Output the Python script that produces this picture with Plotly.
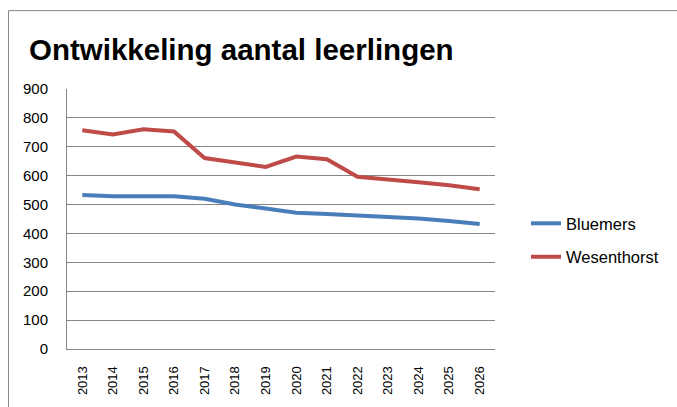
import plotly.graph_objects as go

years = [str(y) for y in range(2013, 2027)]
bluemers = [533, 529, 529, 529, 520, 500, 486, 472, 467, 462, 457, 452, 443, 433]
wesenthorst = [757, 743, 761, 753, 661, 645, 630, 666, 657, 596, 585, 577, 567, 553]
y_ticks = [0, 100, 200, 300, 400, 500, 600, 700, 800, 900]

W, H = 677, 407
L, R, T, B = 67, 495, 89.3, 350.7
pw, ph = R - L, B - T

def px(x):
    return (x - L) / pw

def py(y):
    return (B - y) / ph

FONT = "Liberation Sans, Arial, sans-serif"

fig = go.Figure()
fig.add_trace(go.Scatter(x=years, y=bluemers, mode="lines", name="Bluemers",
                         line=dict(color="#4A7EBB", width=4), legendgroup="a"))
fig.add_trace(go.Scatter(x=years, y=wesenthorst, mode="lines", name="Wesenthorst",
                         line=dict(color="#BE4B48", width=4), legendgroup="b"))

fig.update_layout(
    width=W, height=H,
    margin=dict(l=L, r=W - R, t=T, b=H - B, pad=0),
    paper_bgcolor="white", plot_bgcolor="white",
    font=dict(family=FONT, size=13, color="black"),
    title=dict(text="<b>Ontwikkeling aantal leerlingen</b>",
               font=dict(family=FONT, size=29.5, color="black"),
               x=29 / W, xanchor="left", y=1 - 50 / H, yanchor="middle"),
    showlegend=True,
    legend=dict(x=px(526), y=py(207), xanchor="left", yanchor="top",
                tracegroupgap=9, font=dict(size=16.5),
                bgcolor="rgba(0,0,0,0)", itemwidth=30),
    xaxis=dict(type="category", range=[-0.5, len(years) - 0.5], showgrid=False,
               showline=True, linecolor="#868686", linewidth=1, ticks="",
               tickangle=-90, tickfont=dict(size=13), ticklabelstandoff=11,
               fixedrange=True),
    yaxis=dict(range=[0, 900], tickvals=y_ticks, showgrid=True, gridcolor="#868686",
               gridwidth=1, showline=True, linecolor="#868686", linewidth=1,
               ticks="", zeroline=False, tickfont=dict(size=15),
               ticklabelstandoff=15, fixedrange=True),
    shapes=[dict(type="rect", xref="paper", yref="paper",
                 x0=px(8.5), x1=px(700), y0=py(10.5), y1=py(450),
                 line=dict(color="#868686", width=1), fillcolor="rgba(0,0,0,0)",
                 layer="below")],
)

fig.write_html("out.html", config={"displayModeBar": False},
               post_script="document.body.style.margin='0';document.body.style.overflow='hidden';")
